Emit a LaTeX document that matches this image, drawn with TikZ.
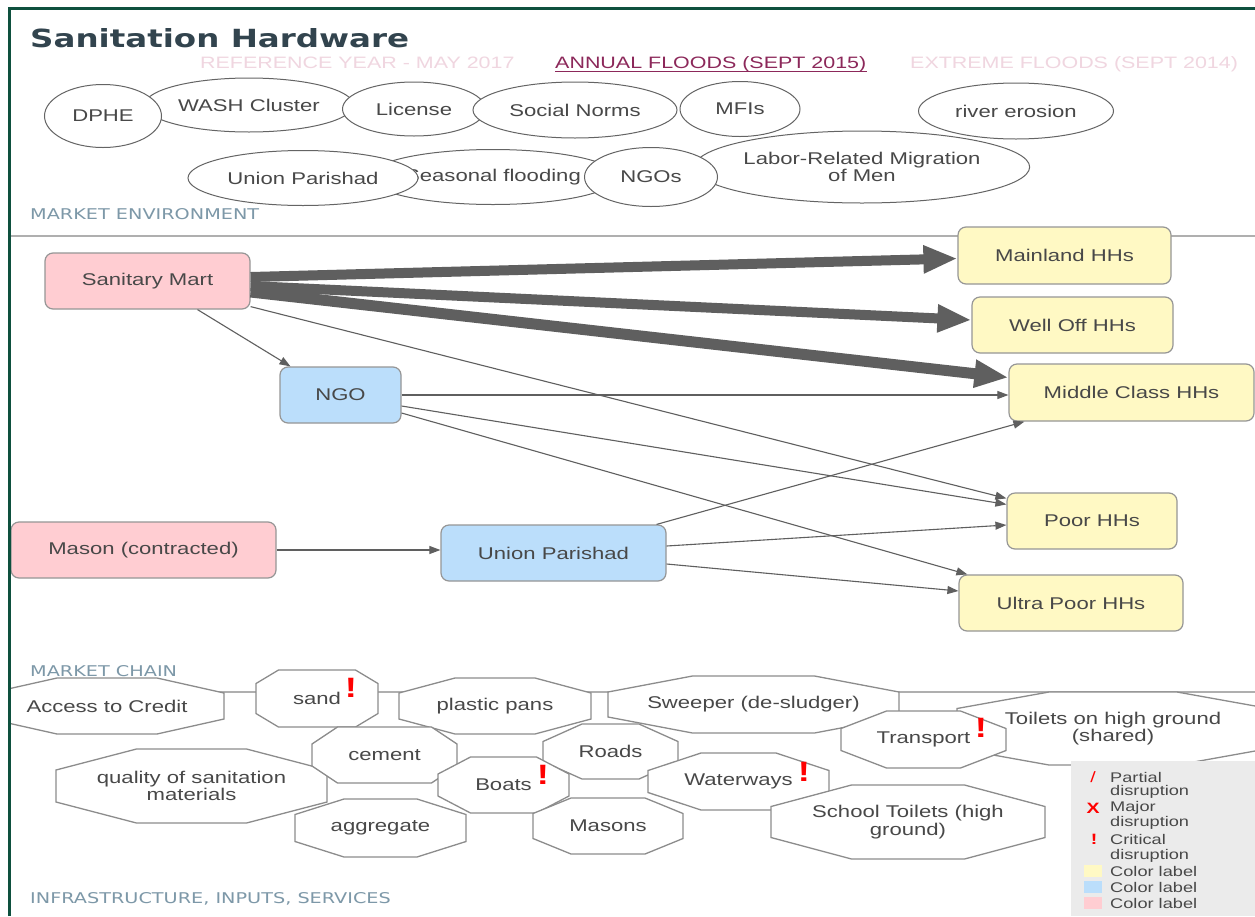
\documentclass[tikz,border=0pt]{standalone}
\usepackage{fontspec}
\usetikzlibrary{shapes.geometric,arrows.meta,calc}
\newfontfamily\libfont{Liberation Sans}[FakeStretch=1.3]
\newfontfamily\djfont{DejaVu Sans}[FakeStretch=1.3]
\newcommand\nodefont{\libfont\fontsize{17}{17.5}\selectfont}
\newcommand\legfont{\libfont\fontsize{14}{15}\selectfont}
\newcommand\hdrfont{\libfont\fontsize{16.5}{18}\selectfont}
\newcommand\exfont{\libfont\bfseries\fontsize{28}{28}\selectfont}
\newcommand\legexfont{\libfont\bfseries\fontsize{15}{15}\selectfont}
\newcommand\secfont{\djfont\fontsize{14.8}{16}\selectfont}
\newcommand\titfont{\djfont\bfseries\fontsize{25}{28}\selectfont}
\definecolor{framegreen}{RGB}{14,80,62}
\definecolor{titlecol}{RGB}{50,68,78}
\definecolor{hdrlight}{RGB}{240,214,224}
\definecolor{hdractive}{RGB}{140,40,90}
\definecolor{seclab}{RGB}{125,152,168}
\definecolor{sepgray}{RGB}{175,175,175}
\definecolor{txt}{RGB}{72,72,72}
\definecolor{pinkfill}{RGB}{255,205,210}
\definecolor{bluefill}{RGB}{187,222,251}
\definecolor{yellowfill}{RGB}{255,249,196}
\definecolor{boxborder}{RGB}{150,150,150}
\definecolor{arrowgray}{RGB}{95,95,95}
\definecolor{octgray}{RGB}{140,140,140}
\definecolor{ellgray}{RGB}{100,100,100}
\definecolor{legbg}{RGB}{235,235,235}
\tikzset{
  box/.style={rectangle, rounded corners=8pt, draw=boxborder, line width=1.2pt, text=txt, font=\nodefont, inner sep=0pt},
  pinkbox/.style={box, fill=pinkfill},
  bluebox/.style={box, fill=bluefill},
  yellowbox/.style={box, fill=yellowfill},
  env/.style={ellipse, draw=ellgray, fill=white, line width=1pt, inner sep=0pt, text=txt, font=\nodefont, align=center},
  octo/.style={draw=octgray, fill=white, line width=1.3pt},
  octtext/.style={text=txt, font=\nodefont, align=center, inner sep=0pt},
  excl/.style={text=red, font=\exfont, inner sep=0pt},
  flow/.style={draw=arrowgray, line width=1.1pt, -{Triangle[length=11pt,width=8pt]}},
  bigflow/.style={draw=arrowgray, line width=10pt, -{Triangle[length=34pt,width=26pt]}},
  seclabel/.style={text=seclab, font=\secfont, anchor=base west, inner sep=0pt},
  hdr/.style={font=\hdrfont, anchor=base west, inner sep=0pt},
  titlelabel/.style={font=\titfont, text=titlecol, anchor=base west, inner sep=0pt},
  legtext/.style={text=txt, font=\legfont, anchor=west, inner sep=0pt},
  legmark/.style={text=red, font=\legexfont, inner sep=0pt},
  sepline/.style={draw=sepgray, line width=2pt}
}
% #1 name, #2 cx, #3 cy, #4 half width, #5 half height, #6 top half length, #7 side half length, #8 text
\newcommand\octnode[8]{%
  \filldraw[octo] (#2-#6,#3-#5) -- (#2+#6,#3-#5) -- (#2+#4,#3-#7) -- (#2+#4,#3+#7)
    -- (#2+#6,#3+#5) -- (#2-#6,#3+#5) -- (#2-#4,#3+#7) -- (#2-#4,#3-#7) -- cycle;
  \node[octtext] (#1) at (#2,#3) {#8};}
\begin{document}
\begin{tikzpicture}[x=1pt,y=-1pt]
\useasboundingbox (0,0) rectangle (1255,916);
\fill[white] (0,0) rectangle (1255,916);

% section separators
\draw[sepline] (10,236) -- (1255,236);
\draw[sepline] (10,692) -- (1255,692);

% title and headers
\node[titlelabel] (title) at (30,47) {Sanitation Hardware};
\node[hdr, text=hdrlight] (ref) at (200,68) {REFERENCE YEAR - MAY 2017};
\node[hdr, text=hdractive] (ann) at (555,68) {ANNUAL FLOODS (SEPT 2015)};
\draw[hdractive, line width=1.2pt] ($(ann.base west)+(0,3.5)$) -- ($(ann.base east)+(0,3.5)$);
\node[hdr, text=hdrlight] (ext) at (910,68) {EXTREME FLOODS (SEPT 2014)};

% market environment
\node[env, minimum width=209pt, minimum height=54pt] (e-wash) at (249,105) {WASH Cluster};
\node[env, minimum width=117pt, minimum height=63pt] (e-dphe) at (103,116) {DPHE};
\node[env, minimum width=143pt, minimum height=54pt] (e-license) at (414,109) {License};
\node[env, minimum width=204pt, minimum height=56pt] (e-social) at (575,110) {Social Norms};
\node[env, minimum width=120pt, minimum height=55pt] (e-mfis) at (740,109) {MFIs};
\node[env, minimum width=195pt, minimum height=56pt] (e-river) at (1016,111) {river erosion};
\node[env, minimum width=319pt, minimum height=72pt] (e-labor) at (862,167) {Labor-Related Migration\\of Men};
\node[env, minimum width=218pt, minimum height=55pt] (e-seasonal) at (493,177) {Seasonal flooding};
\node[env, minimum width=133pt, minimum height=59pt] (e-ngos) at (651,177) {NGOs};
\node[env, minimum width=230pt, minimum height=55pt] (e-union) at (303,178) {Union Parishad};
\node[seclabel] (lab-env) at (30,219.5) {MARKET ENVIRONMENT};

% market chain
\node[pinkbox, minimum width=205pt, minimum height=56pt] (sm) at (147.5,281) {Sanitary Mart};
\node[bluebox, minimum width=121pt, minimum height=56pt] (ngo) at (340.5,395) {NGO};
\node[pinkbox, minimum width=265pt, minimum height=56pt] (mason) at (143.5,550) {Mason (contracted)};
\node[bluebox, minimum width=225pt, minimum height=56pt] (up) at (553.5,553) {Union Parishad};
\node[yellowbox, minimum width=213pt, minimum height=57pt] (mainland) at (1064.5,255.5) {Mainland HHs};
\node[yellowbox, minimum width=201pt, minimum height=56pt] (welloff) at (1072.5,325) {Well Off HHs};
\node[yellowbox, minimum width=245pt, minimum height=57pt] (middle) at (1131.5,392.5) {Middle Class HHs};
\node[yellowbox, minimum width=170pt, minimum height=56pt] (poor) at (1092,521) {Poor HHs};
\node[yellowbox, minimum width=224pt, minimum height=56pt] (ultra) at (1071,603) {Ultra Poor HHs};

\draw[bigflow] ($(sm.east)+(0,-4)$) -- ($(mainland.west)+(0,3)$);
\draw[bigflow] ($(sm.east)+(0,5)$) -- ($(welloff.west)+(0,-5)$);
\draw[bigflow, line width=11pt] ($(sm.east)+(0,11)$) -- ($(middle.west)+(0,-15)$);

\draw[flow] ($(sm.south)+(50,0)$) -- ($(ngo.north)+(-50,0)$);
\draw[flow] ($(sm.south east)+(0,-3)$) -- ($(poor.north west)+(0,6)$);
\draw[flow] (ngo.east) -- (ngo.east -| middle.west);
\draw[flow] ($(ngo.east)+(0,11)$) -- ($(poor.north west)+(0,12)$);
\draw[flow] ($(ngo.east)+(0,18)$) -- ($(ultra.north west)+(9,0)$);
\draw[flow] (mason.east) -- (mason.east -| up.west);
\draw[flow] ($(up.north east)+(-10,0)$) -- ($(middle.south west)+(16,0)$);
\draw[flow] ($(up.east)+(0,-7)$) -- ($(poor.west)+(0,4)$);
\draw[flow] ($(up.east)+(0,11)$) -- ($(ultra.west)+(0,-12)$);

\node[seclabel] (lab-chain) at (30,676) {MARKET CHAIN};

% infrastructure, inputs, services
\begin{scope}
\clip (11,0) rectangle (1255,916);
\octnode{o-credit}{107}{706}{117}{28}{50}{13}{Access to Credit}
\end{scope}
\octnode{o-sand}{317}{698.5}{61}{28.5}{38.5}{15}{sand}
\octnode{o-plastic}{495}{706}{96}{28}{40}{13}{plastic pans}
\octnode{o-sweeper}{753.5}{704.5}{145.5}{28.5}{61}{12.5}{Sweeper (de-sludger)}
\octnode{o-toilets}{1113}{728.5}{156}{36.5}{64}{20}{Toilets on high ground\\(shared)}
\octnode{o-transport}{923.5}{739.5}{82.5}{28.5}{37}{11}{Transport}
\octnode{o-quality}{191.5}{786}{135.5}{37}{55}{16}{quality of sanitation\\materials}
\octnode{o-cement}{384.5}{755}{72.5}{28}{47}{11}{cement}
\octnode{o-roads}{610.5}{751.5}{67.5}{27.5}{28.5}{10}{Roads}
\octnode{o-boats}{503.5}{785}{65.5}{28}{33}{11}{Boats}
\octnode{o-aggregate}{380.5}{828}{85.5}{29}{36.5}{13.5}{aggregate}
\octnode{o-masons}{608}{826}{75}{28}{37}{12.5}{Masons}
\octnode{o-waterways}{738.5}{781.5}{90.5}{28.5}{37.5}{11}{Waterways}
\octnode{o-school}{908}{822}{137}{37}{56.5}{15.5}{School Toilets (high\\ground)}

\node[excl] (x-sand) at (351,688) {!};
\node[excl] (x-boats) at (543,775) {!};
\node[excl] (x-waterways) at (804,772) {!};
\node[excl] (x-transport) at (981,728) {!};

\node[seclabel] (lab-infra) at (30,903) {INFRASTRUCTURE, INPUTS, SERVICES};

% legend
\fill[legbg] (1071,761) rectangle (1255,916);
\node[legmark, font=\libfont\fontsize{15}{15}\selectfont] (m-partial) at (1093,777) {/};
\node[legtext] (t-partial1) at (1110,777) {Partial};
\node[legtext] (t-partial2) at (1110,792) {disruption};
\node[legmark] (m-major) at (1093,808) {X};
\node[legtext] (t-major1) at (1110,808) {Major};
\node[legtext] (t-major2) at (1110,823) {disruption};
\node[legmark] (m-crit) at (1094,839) {!};
\node[legtext] (t-crit1) at (1110,839) {Critical};
\node[legtext] (t-crit2) at (1110,856) {disruption};
\fill[yellowfill] (1084,865) rectangle (1102,877);
\node[legtext] (t-col1) at (1110,871) {Color label};
\fill[bluefill] (1084,881) rectangle (1102,893);
\node[legtext] (t-col2) at (1110,887) {Color label};
\fill[pinkfill] (1084,897) rectangle (1102,909);
\node[legtext] (t-col3) at (1110,903) {Color label};

% frame
\draw[framegreen, line width=3pt] (9.5,916) -- (9.5,8) -- (1255,8);
\end{tikzpicture}
\end{document}
